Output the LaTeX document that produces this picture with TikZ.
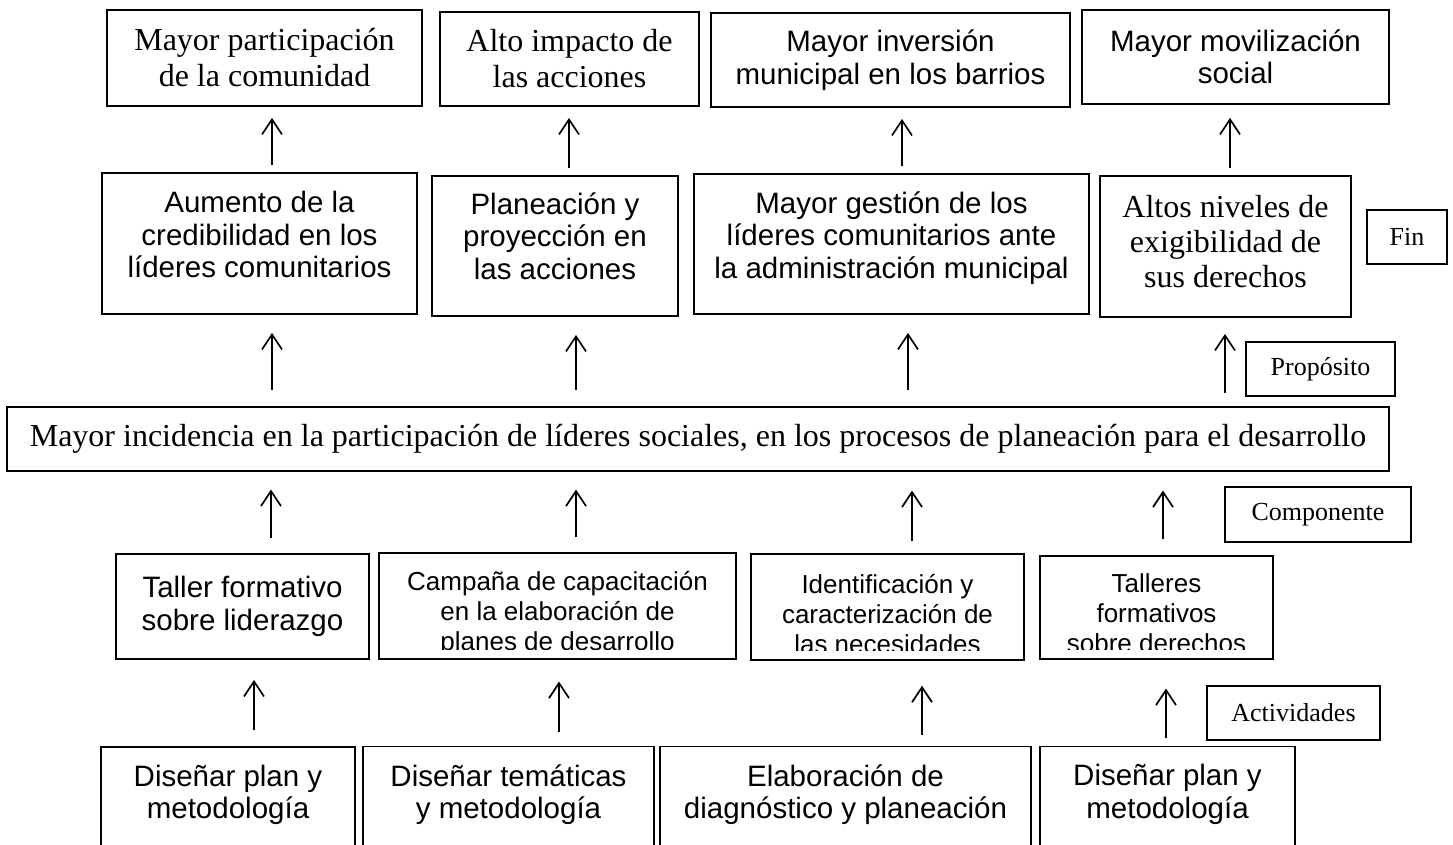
\documentclass[tikz,border=0pt]{standalone}
\usepackage{fontspec}
\setmainfont{Liberation Serif}
\newfontfamily\arialfont{Liberation Sans}
\usetikzlibrary{arrows.meta}

\begin{document}
\begin{tikzpicture}[x=1pt,y=-1pt,
  caja/.style={draw, line width=1.8pt, align=center, inner sep=0pt},
  cajafina/.style={caja, line width=1.1pt},
  texto/.style={align=center, inner sep=0pt},
  etiqueta/.style={caja, line width=1.5pt, font=\fontsize{26}{30}\selectfont},
  romana/.style={font=\fontsize{32}{36}\selectfont},
  arialg/.style={font=\arialfont\fontsize{29.5}{32.5}\selectfont},
  arialp/.style={font=\arialfont\fontsize{26}{30}\selectfont},
  flecha/.style={-{Straight Barb[length=15pt,width=20pt]}, line width=1.7pt}]
\useasboundingbox (0,0) rectangle (1453,845);
\clip (0,0) rectangle (1453,845);

% fin
\node[caja, romana, minimum width=315pt, minimum height=96pt] (a1) at (264.5,58) {Mayor participación\\de la comunidad};
\node[caja, romana, minimum width=259pt, minimum height=94pt] (a2) at (569.5,59) {Alto impacto de\\las acciones};
\node[caja, arialg, minimum width=359pt, minimum height=94pt] (a3) at (890.5,60) {Mayor inversión\\municipal en los barrios};
\node[caja, arialg, minimum width=307pt, minimum height=94pt] (a4) at (1235.5,57) {Mayor movilización\\social};

\node[caja, minimum width=315pt, minimum height=141pt] (b1) at (259.5,243.5) {};
\node[caja, minimum width=246pt, minimum height=140pt] (b2) at (555,246) {};
\node[caja, minimum width=395pt, minimum height=140pt] (b3) at (891.5,244) {};
\node[caja, minimum width=251pt, minimum height=141pt] (b4) at (1225.5,246.5) {};
\node[texto, arialg, yshift=9pt] (b1t) at (b1.center) {Aumento de la\\credibilidad en los\\líderes comunitarios};
\node[texto, arialg, yshift=10pt] (b2t) at (b2.center) {Planeación y\\proyección en\\las acciones};
\node[texto, arialg, yshift=6pt] (b3t) at (b3.center) {Mayor gestión de los\\líderes comunitarios ante\\la administración municipal};
\node[texto, font=\fontsize{32}{35}\selectfont, yshift=5pt] (b4t) at (b4.center) {Altos niveles de\\exigibilidad de\\sus derechos};
\node[etiqueta, minimum width=80pt, minimum height=54pt] (fin) at (1407,237) {Fin};

\draw[flecha, shorten <=7pt, shorten >=11pt] (272,0 |- b1.north) -- (272,0 |- a1.south);
\draw[flecha, shorten <=7pt, shorten >=11pt] (569,0 |- b2.north) -- (569,0 |- a2.south);
\draw[flecha, shorten <=7pt, shorten >=11pt] (902,0 |- b3.north) -- (902,0 |- a3.south);
\draw[flecha, shorten <=7pt, shorten >=13pt] (1230,0 |- b4.north) -- (1230,0 |- a4.south);

% proposito
\node[etiqueta, minimum width=149pt, minimum height=54pt] (proposito) at (1320.5,369) {Propósito};
\node[cajafina, romana, minimum width=1382pt, minimum height=64pt] (c) at (698,439) {Mayor incidencia en la participación de líderes sociales, en los procesos de planeación para el desarrollo};

\draw[flecha, shorten <=16pt, shorten >=18pt] (272,0 |- c.north) -- (272,0 |- b1.south);
\draw[flecha, shorten <=16pt, shorten >=18pt] (576,0 |- c.north) -- (576,0 |- b2.south);
\draw[flecha, shorten <=16pt, shorten >=18pt] (908,0 |- c.north) -- (908,0 |- b3.south);
\draw[flecha, shorten <=13pt, shorten >=16pt] (1225,0 |- c.north) -- (1225,0 |- b4.south);

% componente
\node[etiqueta, minimum width=186pt, minimum height=55pt] (componente) at (1318,514.5) {Componente};
\node[caja, arialg, minimum width=253pt, minimum height=105pt] (d1) at (242.5,606.5) {Taller formativo\\sobre liderazgo};
\node[cajafina, minimum width=357pt, minimum height=106pt] (d2) at (557.5,606) {};
\node[caja, line width=1.4pt, minimum width=273pt, minimum height=106pt] (d3) at (887.5,607) {};
\node[cajafina, minimum width=233pt, minimum height=103pt] (d4) at (1156.5,607.5) {};
\begin{scope}
\clip (d2.north west) rectangle ([yshift=10pt]d2.south east);
\node[texto, arialp, anchor=north, yshift=-19pt] (d2t) at (d2.north) {Campaña de capacitación\\en la elaboración de\\planes de desarrollo};
\end{scope}
\begin{scope}
\clip (d3.north west) rectangle ([yshift=10pt]d3.south east);
\node[texto, arialp, anchor=north, yshift=-21pt] (d3t) at (d3.north) {Identificación y\\caracterización de\\las necesidades};
\end{scope}
\begin{scope}
\clip (d4.north west) rectangle ([yshift=10pt]d4.south east);
\node[texto, arialp, anchor=north, yshift=-18pt] (d4t) at (d4.north) {Talleres\\formativos\\sobre derechos};
\end{scope}

\draw[flecha, shorten <=15pt, shorten >=18pt] (271,0 |- d1.north) -- (271,0 |- c.south);
\draw[flecha, shorten <=15pt, shorten >=18pt] (576,0 |- d2.north) -- (576,0 |- c.south);
\draw[flecha, shorten <=12pt, shorten >=19pt] (912,0 |- d3.north) -- (912,0 |- c.south);
\draw[flecha, shorten <=16pt, shorten >=19pt] (1163,0 |- d4.north) -- (1163,0 |- c.south);

% actividades
\node[etiqueta, minimum width=173pt, minimum height=54pt] (actividades) at (1293.5,713) {Actividades};
\node[caja, arialg, anchor=north, minimum width=254pt, inner ysep=18pt, text depth=80pt] (e1) at (228,746) {Diseñar plan y\\metodología};
\node[cajafina, arialg, anchor=north, minimum width=291pt, inner ysep=18pt, text depth=80pt] (e2) at (508.5,746) {Diseñar temáticas\\y metodología};
\node[cajafina, arialg, anchor=north, minimum width=371pt, inner ysep=18pt, text depth=80pt] (e3) at (845.5,746) {Elaboración de\\diagnóstico y planeación};
\node[cajafina, arialg, anchor=north, minimum width=255pt, inner ysep=18pt, text depth=80pt] (e4) at (1167.5,746) {Diseñar plan y\\metodología};

\draw[flecha, shorten <=16pt, shorten >=20pt] (254,0 |- e1.north) -- (254,0 |- d1.south);
\draw[flecha, shorten <=14pt, shorten >=22pt] (559,0 |- e2.north) -- (559,0 |- d2.south);
\draw[flecha, shorten <=11pt, shorten >=25pt] (922,0 |- e3.north) -- (922,0 |- d3.south);
\draw[flecha, shorten <=8pt, shorten >=29pt] (1166,0 |- e4.north) -- (1166,0 |- d4.south);
\end{tikzpicture}
\end{document}
